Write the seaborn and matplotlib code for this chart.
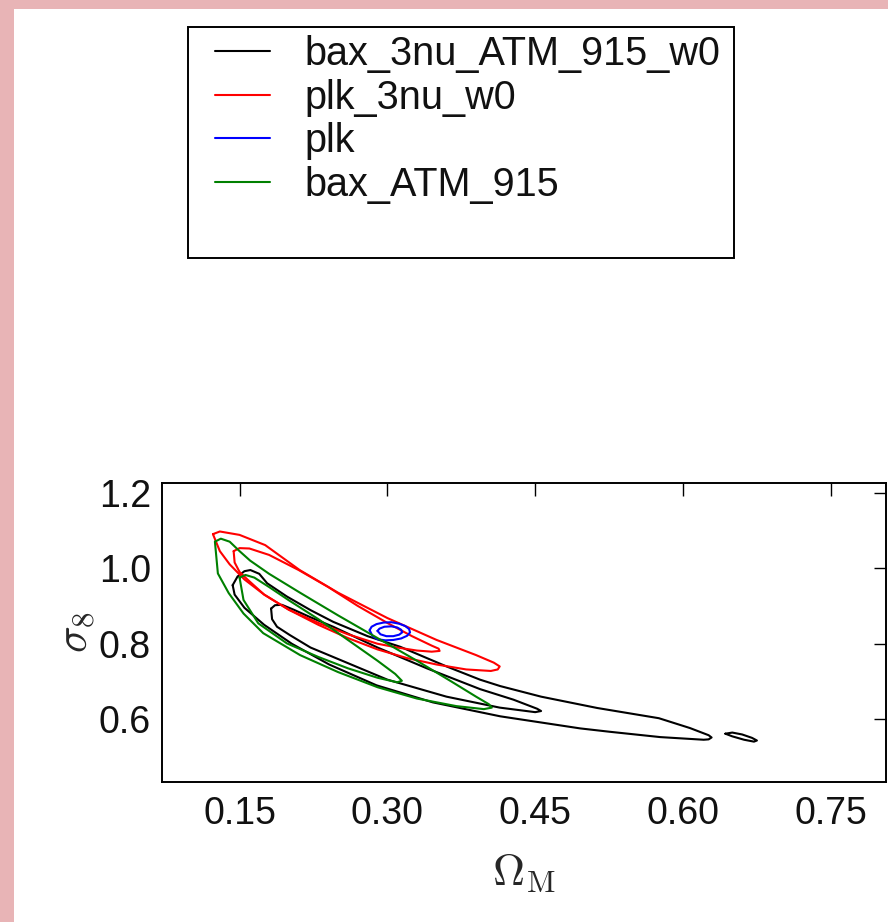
import matplotlib
matplotlib.use("Agg")
import matplotlib.pyplot as plt
import seaborn as sns
import numpy as np
from matplotlib.patches import Rectangle
from matplotlib.lines import Line2D

# ---------------- data ----------------
series_names = ["bax_3nu_ATM_915_w0", "plk_3nu_w0", "plk", "bax_ATM_915"]
series_colors = ["k", "r", "b", "g"]

# bax_3nu_ATM_915_w0 (black)
k95_x = [0.143, 0.148, 0.155, 0.161, 0.170, 0.178, 0.198, 0.222, 0.245, 0.280, 0.313, 0.360, 0.394, 0.4145,
         0.456, 0.513, 0.5755, 0.607, 0.626, 0.629, 0.626, 0.621, 0.577, 0.526, 0.4957, 0.4145, 0.346, 0.289,
         0.241, 0.203, 0.175, 0.155, 0.145, 0.143]
k95_y = [0.955, 0.978, 0.992, 0.995, 0.985, 0.960, 0.925, 0.889, 0.858, 0.820, 0.792, 0.740, 0.705, 0.688,
         0.660, 0.630, 0.603, 0.577, 0.558, 0.552, 0.547, 0.546, 0.553, 0.567, 0.576, 0.608, 0.645, 0.690,
         0.745, 0.800, 0.850, 0.895, 0.930, 0.955]
k68_x = [0.182, 0.186, 0.193, 0.205, 0.222, 0.245, 0.290, 0.340, 0.394, 0.428, 0.452, 0.456, 0.450, 0.414,
         0.360, 0.300, 0.245, 0.222, 0.201, 0.188, 0.183, 0.182]
k68_y = [0.893, 0.902, 0.903, 0.890, 0.870, 0.845, 0.790, 0.735, 0.680, 0.652, 0.628, 0.622, 0.619, 0.631,
         0.660, 0.705, 0.765, 0.790, 0.823, 0.845, 0.865, 0.893]
kisl_x = [0.643, 0.650, 0.660, 0.670, 0.675, 0.672, 0.662, 0.650, 0.643]
kisl_y = [0.562, 0.565, 0.560, 0.551, 0.544, 0.541, 0.546, 0.555, 0.562]

# plk_3nu_w0 (red)
r95_x = [0.123, 0.130, 0.150, 0.176, 0.211, 0.250, 0.300, 0.350, 0.390, 0.408, 0.414, 0.412,
         0.405, 0.380, 0.350, 0.320, 0.290, 0.260, 0.230, 0.200, 0.175, 0.155, 0.140, 0.130, 0.123]
r95_y = [1.090, 1.097, 1.088, 1.061, 0.995, 0.935, 0.868, 0.810, 0.770, 0.750, 0.740, 0.732,
         0.728, 0.732, 0.745, 0.762, 0.785, 0.815, 0.850, 0.890, 0.930, 0.970, 1.010, 1.045, 1.090]
r68_x = [0.144, 0.150, 0.160, 0.180, 0.210, 0.240, 0.270, 0.300, 0.325, 0.345, 0.352, 0.353,
         0.345, 0.330, 0.310, 0.290, 0.260, 0.230, 0.200, 0.175, 0.158, 0.150, 0.145, 0.144]
r68_y = [1.045, 1.053, 1.052, 1.035, 0.995, 0.950, 0.900, 0.855, 0.820, 0.795, 0.787, 0.781,
         0.779, 0.782, 0.790, 0.800, 0.825, 0.855, 0.890, 0.930, 0.970, 0.990, 1.015, 1.045]

# plk (blue)
b95_x = [0.282, 0.284, 0.289, 0.296, 0.304, 0.312, 0.318, 0.322, 0.323, 0.320, 0.314, 0.306, 0.298,
         0.290, 0.285, 0.282]
b95_y = [0.836, 0.845, 0.852, 0.856, 0.857, 0.853, 0.847, 0.839, 0.830, 0.821, 0.814, 0.810, 0.809,
         0.812, 0.820, 0.836]
b68_x = [0.290, 0.292, 0.297, 0.304, 0.310, 0.314, 0.315, 0.312, 0.306, 0.299, 0.293, 0.290]
b68_y = [0.834, 0.840, 0.845, 0.846, 0.843, 0.837, 0.830, 0.824, 0.820, 0.820, 0.825, 0.834]

# bax_ATM_915 (green)
g95_x = [0.125, 0.131, 0.140, 0.150, 0.1607, 0.180, 0.2114, 0.250, 0.290, 0.330, 0.365, 0.390, 0.403,
         0.406, 0.398, 0.370, 0.330, 0.290, 0.250, 0.2114, 0.174, 0.154, 0.139, 0.128, 0.125]
g95_y = [1.070, 1.078, 1.070, 1.045, 1.020, 0.985, 0.935, 0.875, 0.815, 0.755, 0.700, 0.660, 0.640,
         0.631, 0.627, 0.635, 0.655, 0.685, 0.725, 0.770, 0.828, 0.880, 0.934, 0.986, 1.070]
g68_x = [0.150, 0.156, 0.165, 0.180, 0.200, 0.230, 0.260, 0.290, 0.308, 0.3147,
         0.310, 0.290, 0.260, 0.230, 0.198, 0.169, 0.154, 0.150]
g68_y = [0.975, 0.982, 0.975, 0.950, 0.915, 0.865, 0.810, 0.755, 0.720, 0.702,
         0.698, 0.710, 0.735, 0.765, 0.801, 0.854, 0.916, 0.975]

contours = {
    "bax_3nu_ATM_915_w0": [(k95_x, k95_y), (k68_x, k68_y), (kisl_x, kisl_y)],
    "plk_3nu_w0": [(r95_x, r95_y), (r68_x, r68_y)],
    "plk": [(b95_x, b95_y), (b68_x, b68_y)],
    "bax_ATM_915": [(g95_x, g95_y), (g68_x, g68_y)],
}

x_ticks = [0.15, 0.30, 0.45, 0.60, 0.75]
y_ticks = [0.6, 0.8, 1.0, 1.2]
x_lim = (0.0713, 0.806)
y_lim = (0.435, 1.2245)

# ---------------- style ----------------
sns.set_style("white")
plt.rcParams["font.family"] = ["Liberation Sans", "DejaVu Sans"]
plt.rcParams["mathtext.fontset"] = "cm"
plt.rcParams["text.color"] = "#111111"

W, H = 888, 922
fig = plt.figure(figsize=(W / 100, H / 100), dpi=100)
fig.patch.set_facecolor("white")

# pink frame strips (left and top)
fig.patches.append(Rectangle((0, 0), 14 / W, 1, transform=fig.transFigure,
                             facecolor="#e8b4b6", edgecolor="none", zorder=0))
fig.patches.append(Rectangle((0, 1 - 9 / H), 1, 9 / H, transform=fig.transFigure,
                             facecolor="#e8b4b6", edgecolor="none", zorder=0))

ax = fig.add_axes([162 / W, 1 - 781.7 / H, (886 - 162) / W, (781.7 - 483.3) / H])
ax.set_facecolor("white")

for name, color in zip(series_names, series_colors):
    for cx, cy in contours[name]:
        sns.lineplot(x=cx, y=cy, sort=False, estimator=None, color=color,
                     linewidth=1.5, ax=ax, legend=False)

ax.set_xlim(*x_lim)
ax.set_ylim(*y_lim)
ax.set_xticks(x_ticks)
ax.set_xticklabels([f"{v:.2f}" for v in x_ticks])
ax.set_yticks(y_ticks)
ax.set_yticklabels([f"{v:.1f}" for v in y_ticks])
ax.tick_params(direction="in", length=9, width=1.0, top=True, right=True,
               labelsize=27, pad=10, colors="black", labelcolor="#111111")
ax.tick_params(axis="y", pad=8)
for s in ax.spines.values():
    s.set_visible(True)
    s.set_color("black")
    s.set_linewidth(1.4)

ax.set_xlabel(r"$\Omega_{\rm M}$", fontsize=32)
ax.set_ylabel(r"$\sigma_8$", fontsize=32)
ax.xaxis.set_label_coords(0.5, -0.235)
ax.yaxis.set_label_coords(-0.090, 0.5)

# legend: frameless entries + a separately drawn box
handles = [Line2D([0], [0], color=c, linewidth=1.5) for c in series_colors]
leg = fig.legend(handles, series_names, loc="upper left",
                 bbox_to_anchor=(215 / W, 1 - 35 / H), fontsize=28.5,
                 frameon=False, handlelength=1.4, handletextpad=0.86,
                 labelspacing=0.14, borderpad=0.0, borderaxespad=0)
fig.patches.append(Rectangle((188 / W, 1 - 258 / H), (734 - 188) / W, (258 - 27) / H,
                             transform=fig.transFigure, facecolor="none",
                             edgecolor="black", linewidth=1.4, zorder=5))

fig.savefig("out.png", dpi=100, facecolor="white")
